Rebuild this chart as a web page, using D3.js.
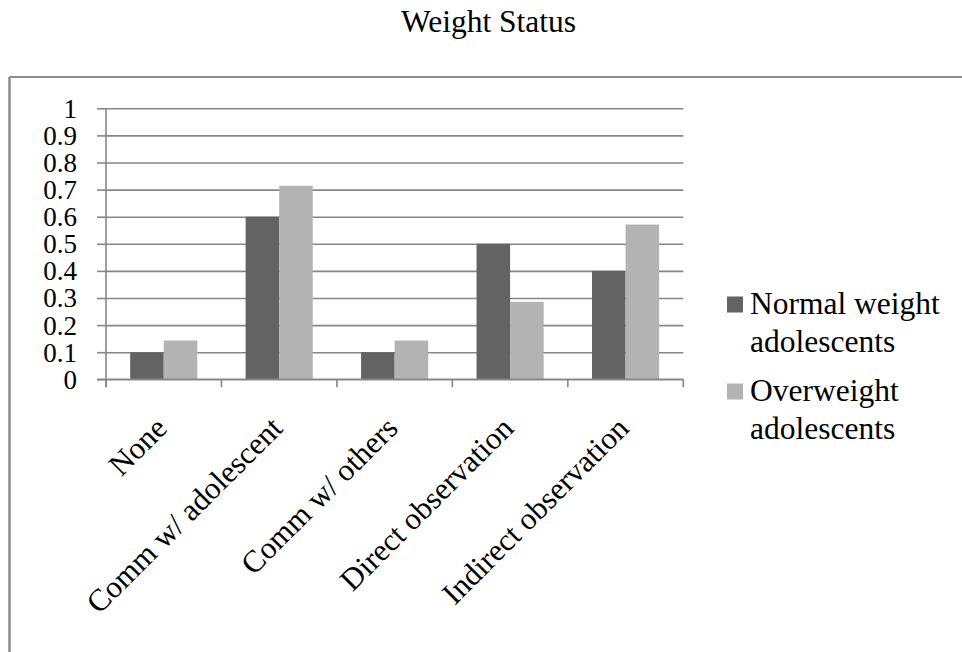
<!DOCTYPE html>
<html>
<head>
<meta charset="utf-8">
<script src="https://cdn.jsdelivr.net/npm/d3@7"></script>
<style>
  html, body { margin: 0; padding: 0; background: #fff; }
  svg { display: block; }
  text { font-family: "Liberation Serif", "Times New Roman", serif; fill: #000; }
</style>
</head>
<body>
<svg id="chart" width="962" height="652"></svg>
<script>
const title = "Weight Status";
const categories = ["None", "Comm w/ adolescent", "Comm w/ others", "Direct observation", "Indirect observation"];
const seriesNames = ["Normal weight adolescents", "Overweight adolescents"];
const normalWeight = [0.1, 0.6, 0.1, 0.5, 0.4];
const overweight = [0.143, 0.714, 0.143, 0.286, 0.571];
const yTicks = [0, 0.1, 0.2, 0.3, 0.4, 0.5, 0.6, 0.7, 0.8, 0.9, 1];
const legendLines = [["Normal weight", "adolescents"], ["Overweight", "adolescents"]];

const FONT = "'Liberation Serif', 'Times New Roman', serif";
const colors = ["#636363", "#b3b3b3"];
const gridColor = "#878787";

const svg = d3.select("#chart");

// outer frame (cropped box: left and top visible)
svg.append("line").attr("x1", 9.5).attr("x2", 9.5).attr("y1", 77).attr("y2", 652)
  .attr("stroke", "#8c8c8c").attr("stroke-width", 2.5);
svg.append("line").attr("x1", 9.5).attr("x2", 962).attr("y1", 77).attr("y2", 77)
  .attr("stroke", "#8c8c8c").attr("stroke-width", 2);

// title
svg.append("text").attr("x", 488.5).attr("y", 32).attr("text-anchor", "middle")
  .style("font-family", FONT).style("font-size", "31.5px").text(title);

const plotLeft = 106, plotRight = 683.3, plotTop = 108.3, plotBottom = 379.3;

const x = d3.scaleBand().domain(categories).range([plotLeft, plotRight]).padding(0);
const xs = d3.scaleBand().domain(seriesNames).range([0, x.bandwidth()])
  .paddingInner(0).paddingOuter(0.72);
const y = d3.scaleLinear().domain([0, 1]).range([plotBottom, plotTop]);

// gridlines
const grid = svg.append("g").attr("transform", `translate(${plotLeft},0)`)
  .call(d3.axisLeft(y).tickValues(yTicks).tickSize(-(plotRight - plotLeft)).tickFormat(""));
grid.select(".domain").remove();
grid.selectAll(".tick line").attr("stroke", gridColor).attr("stroke-width", 1.6);

// y axis with outward ticks and labels
const yAxis = svg.append("g").attr("transform", `translate(${plotLeft},0)`)
  .call(d3.axisLeft(y).tickValues(yTicks).tickSize(9).tickPadding(20)
    .tickFormat(d => d3.format("")(+d.toFixed(1))));
yAxis.attr("font-family", FONT);
yAxis.select(".domain").remove();
yAxis.selectAll(".tick line").attr("stroke", gridColor).attr("stroke-width", 1.6);
yAxis.selectAll(".tick text").style("font-size", "27px")
  .style("font-family", FONT).attr("dy", "0.33em");
svg.append("line").attr("x1", plotLeft).attr("x2", plotLeft).attr("y1", plotTop).attr("y2", plotBottom + 8)
  .attr("stroke", gridColor).attr("stroke-width", 1.6);

// bars
const series = [normalWeight, overweight];
series.forEach((vals, si) => {
  svg.append("g").selectAll("rect").data(categories).join("rect")
    .attr("x", (c) => x(c) + xs(seriesNames[si]))
    .attr("width", xs.bandwidth())
    .attr("y", (c, i) => y(vals[i]))
    .attr("height", (c, i) => y(0) - y(vals[i]))
    .attr("fill", colors[si]);
});

// x axis line and boundary ticks
svg.append("line").attr("x1", plotLeft - 9).attr("x2", plotRight).attr("y1", plotBottom).attr("y2", plotBottom)
  .attr("stroke", gridColor).attr("stroke-width", 1.6);
const boundaries = categories.map(c => x(c)).concat([x(categories[categories.length - 1]) + x.bandwidth()]);
svg.append("g").selectAll("line").data(boundaries).join("line")
  .attr("x1", d => d).attr("x2", d => d).attr("y1", plotBottom).attr("y2", plotBottom + 8)
  .attr("stroke", gridColor).attr("stroke-width", 1.6);

// category labels rotated
svg.append("g").selectAll("text").data(categories).join("text")
  .attr("transform", c => `translate(${x(c) + x.bandwidth() / 2 + 5},430) rotate(-45)`)
  .attr("text-anchor", "end")
  .style("font-family", FONT)
  .style("font-size", "31px")
  .text(c => c);

// legend
const legendY = [314, 401];
legendLines.forEach((lines, i) => {
  const g = svg.append("g");
  g.append("rect").attr("x", 727).attr("y", legendY[i] - 17.5).attr("width", 16).attr("height", 16)
    .attr("fill", colors[i]);
  lines.forEach((t, j) => {
    g.append("text").attr("x", 750).attr("y", legendY[i] + j * 37.5)
      .style("font-family", FONT).style("font-size", "31.5px").text(t);
  });
});
</script>
</body>
</html>
